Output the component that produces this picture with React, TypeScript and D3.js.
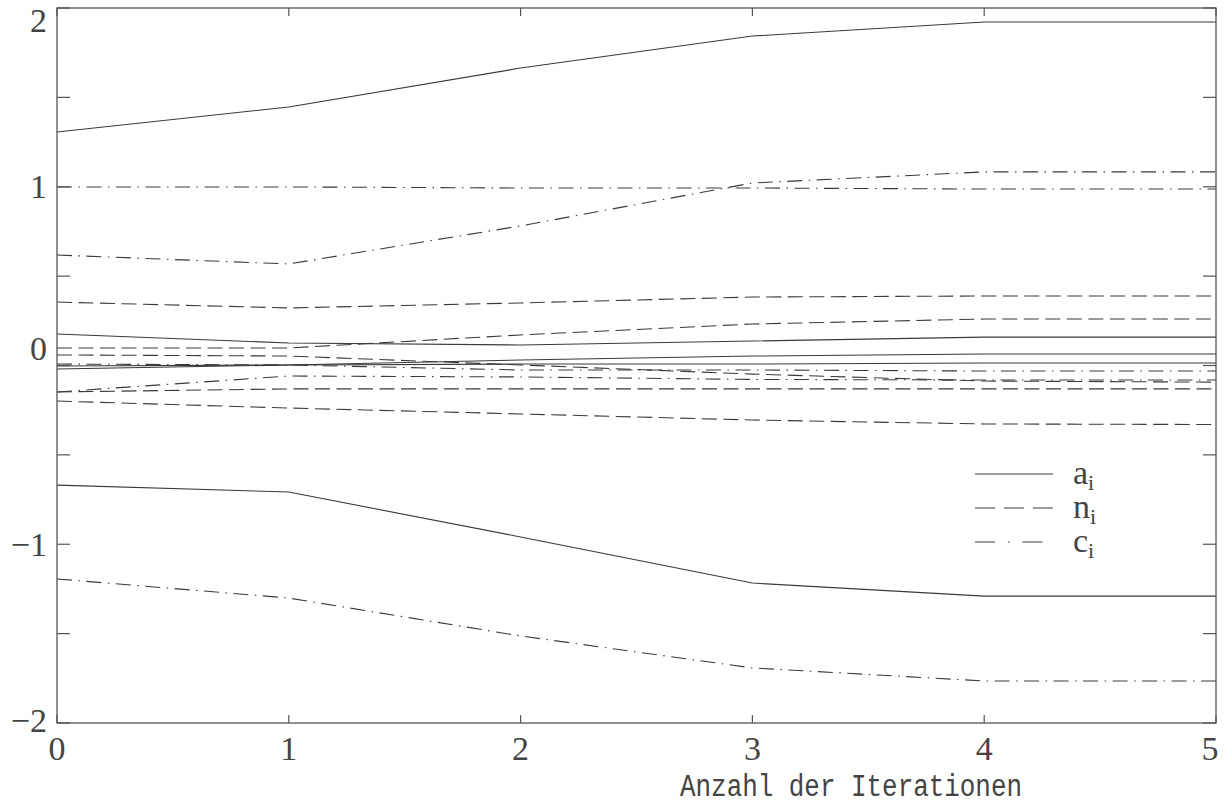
import React from "react";
import * as d3 from "d3";

const iterations = [0, 1, 2, 3, 4, 5];

const aSeries = [
  [1.306, 1.446, 1.664, 1.843, 1.922, 1.922],
  [0.176, 0.126, 0.115, 0.137, 0.159, 0.159],
  [-0.003, 0.003, 0.031, 0.053, 0.064, 0.064],
  [-0.02, 0.003, 0.008, 0.008, 0.014, 0.014],
  [-0.669, -0.708, -0.959, -1.217, -1.29, -1.29],
];

const nSeries = [
  [0.355, 0.322, 0.35, 0.383, 0.389, 0.389],
  [0.098, 0.098, 0.171, 0.232, 0.26, 0.26],
  [0.059, 0.053, 0.003, -0.048, -0.087, -0.093],
  [-0.148, -0.131, -0.131, -0.131, -0.131, -0.131],
  [-0.199, -0.238, -0.271, -0.305, -0.327, -0.33],
];

const cSeries = [
  [0.999, 0.999, 0.993, 0.993, 0.987, 0.987],
  [0.618, 0.568, 0.781, 1.021, 1.083, 1.083],
  [0.008, 0.003, -0.025, -0.025, -0.031, -0.031],
  [-0.148, -0.059, -0.064, -0.078, -0.081, -0.081],
  [-1.194, -1.301, -1.513, -1.692, -1.765, -1.765],
];

const xTicks = [0, 1, 2, 3, 4, 5];
const yMajorTicks = [-2, -1, 0, 1, 2];
const yMinorTicks = [-2, -1.5, -1, -0.5, 0, 0.5, 1, 1.5, 2];
const xTitle = "Anzahl der Iterationen";
const legendItems = [
  { base: "a", sub: "i", kind: "solid" },
  { base: "n", sub: "i", kind: "dashed" },
  { base: "c", sub: "i", kind: "dashdot" },
];

const W = 1231;
const H = 808;
const left = 57;
const right = 1216;
const top = 8;
const bottom = 723;

const dashFor: Record<string, string | undefined> = {
  solid: undefined,
  dashed: "15 6.5",
  dashdot: "15 6.5 1.5 6.5",
};

const legendDash: Record<string, string | undefined> = {
  solid: undefined,
  dashed: "20 9",
  dashdot: "20 13 1.5 13",
};

export default function App() {
  const x = d3.scaleLinear().domain([0, 5]).range([left, right]);
  const y = d3.scaleLinear().domain([-2, 2]).range([bottom, top]);
  const line = d3
    .line<number>()
    .x((_, i) => x(iterations[i]))
    .y((d) => y(d));

  const lineColor = "#3a3a3a";
  const font = "'Liberation Serif', 'DejaVu Serif', serif";

  const groups: { kind: string; data: number[][] }[] = [
    { kind: "solid", data: aSeries },
    { kind: "dashed", data: nSeries },
    { kind: "dashdot", data: cSeries },
  ];

  const yLabelNudge = (v: number) => (v === 2 ? 12 : v === 0 ? -17 : v === -2 ? -3 : 0);
  const xLabelNudge = (v: number) => (v === 5 ? -6 : 0);

  const legX0 = 975;
  const legX1 = 1053;
  const legY0 = 474;
  const legStep = 34;

  return (
    <svg
      width={W}
      height={H}
      style={{ position: "absolute", left: 0, top: 0, display: "block", background: "#fff" }}
    >
      <rect x={0} y={0} width={W} height={H} fill="#fff" />
      {groups.map((g) =>
        g.data.map((s, i) => (
          <path
            key={g.kind + i}
            d={line(s) || ""}
            fill="none"
            stroke={lineColor}
            strokeWidth={1.1}
            strokeDasharray={dashFor[g.kind]}
          />
        ))
      )}
      <rect
        x={left}
        y={top}
        width={right - left}
        height={bottom - top}
        fill="none"
        stroke="#555"
        strokeWidth={1.3}
      />
      {yMinorTicks.map((v) => (
        <g key={"yt" + v}>
          <line x1={left} x2={left + 13} y1={y(v)} y2={y(v)} stroke="#555" strokeWidth={1.2} />
          <line x1={right} x2={right - 13} y1={y(v)} y2={y(v)} stroke="#555" strokeWidth={1.2} />
        </g>
      ))}
      {xTicks.map((v) => (
        <g key={"xt" + v}>
          <line x1={x(v)} x2={x(v)} y1={bottom} y2={bottom - 8} stroke="#555" strokeWidth={1.2} />
          <line x1={x(v)} x2={x(v)} y1={top} y2={top + 8} stroke="#555" strokeWidth={1.2} />
        </g>
      ))}
      {yMajorTicks.map((v) => (
        <text
          key={"yl" + v}
          x={47}
          y={y(v) + yLabelNudge(v)}
          textAnchor="end"
          dominantBaseline="central"
          fontFamily={font}
          fontSize={34}
          fill="#444"
        >
          {v < 0 ? "\u2212" + Math.abs(v) : String(v)}
        </text>
      ))}
      {xTicks.map((v) => (
        <text
          key={"xl" + v}
          x={x(v) + xLabelNudge(v)}
          y={760}
          textAnchor="middle"
          fontFamily={font}
          fontSize={34}
          fill="#444"
        >
          {String(v)}
        </text>
      ))}
      <text
        x={680}
        y={796}
        fontFamily="'Liberation Mono', 'DejaVu Sans Mono', monospace"
        fontSize={31}
        textLength={342}
        lengthAdjust="spacingAndGlyphs"
        fill="#444"
      >
        {xTitle}
      </text>
      {legendItems.map((it, i) => {
        const ly = legY0 + i * legStep;
        return (
          <g key={"leg" + i}>
            <line
              x1={legX0}
              x2={legX1}
              y1={ly}
              y2={ly}
              stroke={lineColor}
              strokeWidth={1.1}
              strokeDasharray={legendDash[it.kind]}
            />
            <text x={1073} y={ly + 10} fontFamily={font} fontSize={34} fill="#444">
              {it.base}
              <tspan fontSize={22} dy={6}>
                {it.sub}
              </tspan>
            </text>
          </g>
        );
      })}
    </svg>
  );
}
